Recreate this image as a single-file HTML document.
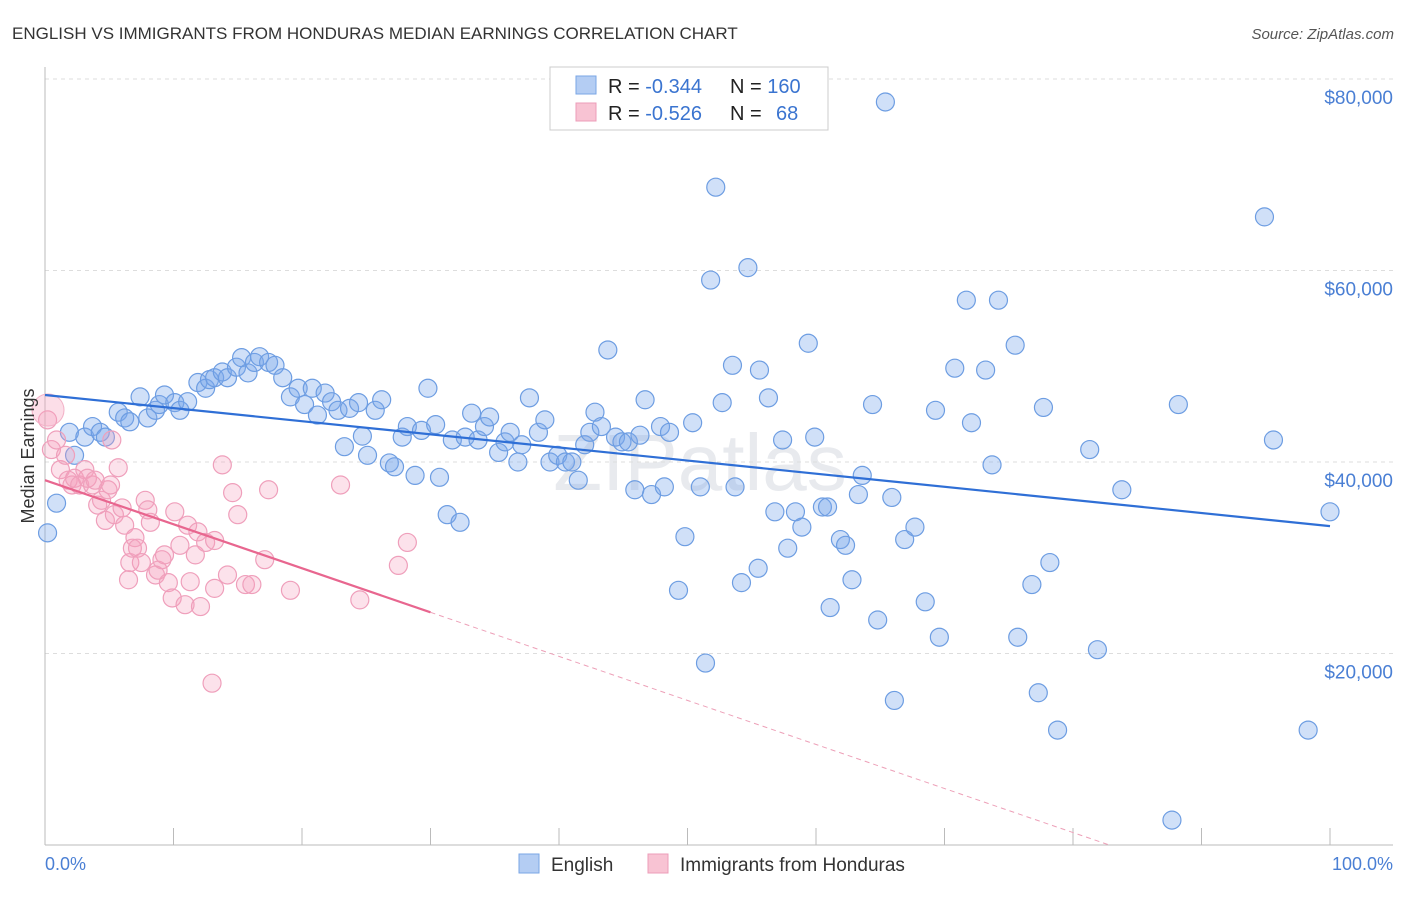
<!DOCTYPE html>
<html><head><meta charset="utf-8"><style>
body{margin:0;background:#fff;font-family:"Liberation Sans",sans-serif;}
svg text{font-family:"Liberation Sans",sans-serif;}
</style></head><body>
<svg id="chart" width="1406" height="892" xmlns="http://www.w3.org/2000/svg">
<text x="12" y="39" font-size="17" fill="#333">ENGLISH VS IMMIGRANTS FROM HONDURAS MEDIAN EARNINGS CORRELATION CHART</text>
<text x="1394" y="39" font-size="15" fill="#555" text-anchor="end" font-style="italic">Source: ZipAtlas.com</text>
<text x="700" y="490" font-size="80" fill="#e8eaee" text-anchor="middle" font-family="Liberation Serif">ZIPatlas</text>
<g id="grid"></g>
<g id="axes"></g>
<g id="marks"></g>
<g>
<rect x="550" y="67" width="278" height="63" fill="#fff" stroke="#ccc"/>
<rect x="576" y="76" width="20" height="18" fill="#b4cdf3" stroke="#7aa6e6"/>
<rect x="576" y="103" width="20" height="18" fill="#f8c3d3" stroke="#ec9db8"/>
<text x="608" y="93" font-size="20" fill="#222">R = <tspan fill="#3a74d0">-0.344</tspan><tspan x="730">N = </tspan><tspan fill="#3a74d0">160</tspan></text>
<text x="608" y="120" font-size="20" fill="#222">R = <tspan fill="#3a74d0">-0.526</tspan><tspan x="730">N = </tspan><tspan fill="#3a74d0" x="776">68</tspan></text>
</g>
<text transform="translate(34,456) rotate(-90)" font-size="18" fill="#333" text-anchor="middle">Median Earnings</text>
<text x="45" y="870" font-size="18" fill="#4a7fd4">0.0%</text>
<text x="1393" y="870" font-size="18" fill="#4a7fd4" text-anchor="end">100.0%</text>
<g>
<rect x="519" y="854" width="20" height="19" fill="#b4cdf3" stroke="#7aa6e6"/>
<text x="551" y="871" font-size="19" fill="#333">English</text>
<rect x="648" y="854" width="20" height="19" fill="#f8c3d3" stroke="#ec9db8"/>
<text x="680" y="871" font-size="19" fill="#333">Immigrants from Honduras</text>
</g>
</svg>
<script>
const yTicks=[20000,40000,60000,80000];
const yTickLabels=["$20,000","$40,000","$60,000","$80,000"];
const xTicks=[0,10,20,30,40,50,60,70,80,90,100];
const englishX=[0.2,0.9,1.9,2.3,3.1,3.7,4.3,4.7,5.7,6.2,6.6,7.4,8.0,8.6,8.9,9.3,10.1,10.5,11.1,11.9,12.5,12.8,13.2,13.8,14.2,14.9,15.3,15.8,16.3,16.7,17.4,17.9,18.5,19.1,19.7,20.2,20.8,21.2,21.8,22.3,22.8,23.3,23.7,24.4,24.7,25.1,25.7,26.2,26.8,27.2,27.8,28.2,28.8,29.3,29.8,30.4,30.7,31.3,31.7,32.3,32.7,33.2,33.7,34.2,34.6,35.3,35.8,36.2,36.8,37.1,37.7,38.4,38.9,39.3,39.9,40.5,41.0,41.5,42.0,42.4,42.8,43.3,43.8,44.4,44.9,45.4,45.9,46.3,46.7,47.2,47.9,48.2,48.6,49.3,49.8,50.4,51.0,51.4,51.8,52.2,52.7,53.5,53.7,54.2,54.7,55.5,55.6,56.3,56.8,57.4,57.8,58.4,58.9,59.4,59.9,60.5,60.9,61.1,61.9,62.3,62.8,63.3,63.6,64.4,64.8,65.4,65.9,66.1,66.9,67.7,68.5,69.3,69.6,70.8,71.7,72.1,73.2,73.7,74.2,75.5,75.7,76.8,77.3,77.7,78.2,78.8,81.3,81.9,83.8,87.7,88.2,94.9,95.6,98.3,100.0];
const englishY=[32.6,35.7,43.1,40.7,42.6,43.7,43.1,42.6,45.2,44.6,44.2,46.8,44.6,45.4,46.0,47.0,46.2,45.4,46.3,48.3,47.7,48.6,48.8,49.4,48.8,49.9,50.9,49.3,50.4,51.0,50.4,50.1,48.8,46.8,47.7,46.0,47.7,44.9,47.2,46.3,45.4,41.6,45.6,46.2,42.7,40.7,45.4,46.5,39.9,39.5,42.6,43.7,38.6,43.3,47.7,43.9,38.4,34.5,42.3,33.7,42.6,45.1,42.3,43.7,44.7,41.0,42.1,43.1,40.0,41.8,46.7,43.1,44.4,40.0,40.7,40.0,40.0,38.1,41.8,43.1,45.2,43.7,51.7,42.6,42.1,42.1,37.1,42.8,46.5,36.6,43.7,37.4,43.1,26.6,32.2,44.1,37.4,19.0,59.0,68.7,46.2,50.1,37.4,27.4,60.3,28.9,49.6,46.7,34.8,42.3,31.0,34.8,33.2,52.4,42.6,35.3,35.3,24.8,31.9,31.3,27.7,36.6,38.6,46.0,23.5,77.6,36.3,15.1,31.9,33.2,25.4,45.4,21.7,49.8,56.9,44.1,49.6,39.7,56.9,52.2,21.7,27.2,15.9,45.7,29.5,12.0,41.3,20.4,37.1,2.6,46.0,65.6,42.3,12.0,34.8];
const hondurasX=[0.2,0.5,0.9,1.2,1.6,1.8,2.1,2.3,2.7,3.1,3.3,3.7,3.9,4.1,4.4,4.7,4.9,5.1,5.2,5.4,5.7,6.0,6.2,6.5,6.6,6.8,7.0,7.2,7.5,7.8,8.0,8.2,8.6,8.8,9.1,9.3,9.6,9.9,10.1,10.5,10.9,11.1,11.3,11.7,11.9,12.1,12.5,13.0,13.2,13.8,14.2,14.6,15.0,15.6,16.1,17.1,17.4,19.1,23.0,24.5,27.5,28.2,13.2];
const hondurasY=[44.4,41.3,42.3,39.2,40.7,38.1,37.6,38.3,37.6,39.2,38.3,37.6,38.1,35.5,36.0,33.9,37.1,37.6,42.3,34.5,39.4,35.2,33.4,27.7,29.5,31.0,32.1,31.0,29.5,36.0,35.0,33.7,28.2,28.7,29.8,30.3,27.4,25.8,34.8,31.3,25.1,33.4,27.5,30.3,32.7,24.9,31.6,16.9,26.8,39.7,28.2,36.8,34.5,27.2,27.2,29.8,37.1,26.6,37.6,25.6,29.2,31.6,31.8];
const englishTrend=[47.0,33.3];
const hondurasTrend=[38.1,24.3];
const NS="http://www.w3.org/2000/svg";
function xs(p){return 45+p*12.85;}
function ys(v){return 845-v*9.575;}
function mk(tag,attrs,parent){const e=document.createElementNS(NS,tag);for(const k in attrs)e.setAttribute(k,attrs[k]);parent.appendChild(e);return e;}
const grid=document.getElementById('grid'),axes=document.getElementById('axes'),marks=document.getElementById('marks');
yTicks.forEach((t,i)=>{
 const y=ys(t/1000);
 const l=mk('line',{x1:45,x2:1393,y1:y,y2:y,stroke:'#ddd','stroke-dasharray':'4,4'},grid);
 
 
 const tx=mk('text',{x:1393,y:y+25,'font-size':19,fill:'#4a7fd4','text-anchor':'end'},axes);
 tx.textContent=yTickLabels[i];
 
 
});
const ax=mk('line',{x1:45,x2:45,y1:67,y2:845,stroke:'#bbb'},axes);


const bx=mk('line',{x1:45,x2:1393,y1:845,y2:845,stroke:'#bbb'},axes);


xTicks.forEach(t=>{
 const tk=mk('line',{x1:xs(t),x2:xs(t),y1:828,y2:845,stroke:'#bbb'},axes);
 
 
});
englishX.forEach((x,i)=>{
 const c=mk('circle',{cx:xs(x),cy:ys(englishY[i]),r:9,fill:'rgba(120,165,235,0.35)',stroke:'#6d9de2','stroke-width':1.2},marks);
 
 
});
hondurasX.forEach((x,i)=>{
 const c=mk('circle',{cx:xs(x),cy:ys(hondurasY[i]),r:9,fill:'rgba(245,160,190,0.3)',stroke:'#ef9fbb','stroke-width':1.2},marks);
 
 
});
const big=mk('circle',{cx:48,cy:410,r:16,fill:'rgba(245,160,190,0.35)',stroke:'#f2b0c6'},marks);


const bl=mk('line',{x1:xs(0),y1:ys(englishTrend[0]),x2:xs(100),y2:ys(englishTrend[1]),stroke:'#2f6fd6','stroke-width':2.2},marks);


const slope=(hondurasTrend[1]-hondurasTrend[0])/30;
const pl=mk('line',{x1:xs(0),y1:ys(hondurasTrend[0]),x2:xs(30),y2:ys(hondurasTrend[1]),stroke:'#e8668f','stroke-width':2.2},marks);


const xEnd=-hondurasTrend[0]/slope;
const pd=mk('line',{x1:xs(30),y1:ys(hondurasTrend[1]),x2:xs(xEnd),y2:ys(0),stroke:'#eda0b8','stroke-width':1,'stroke-dasharray':'5,4'},marks);


</script>
</body></html>
